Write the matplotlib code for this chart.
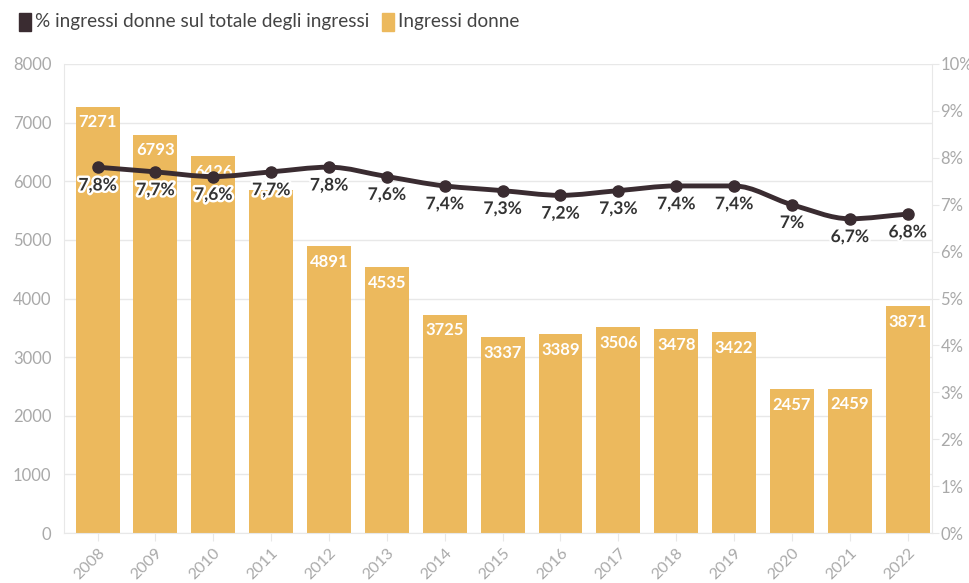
import matplotlib.pyplot as plt
import matplotlib.patheffects as pe
from matplotlib.patches import Rectangle, PathPatch
from matplotlib.path import Path

plt.rcParams['font.family'] = ['Lato', 'DejaVu Sans']

years = ['2008', '2009', '2010', '2011', '2012', '2013', '2014', '2015',
         '2016', '2017', '2018', '2019', '2020', '2021', '2022']
ingressi_donne = [7271, 6793, 6426, 5850, 4891, 4535, 3725, 3337,
                  3389, 3506, 3478, 3422, 2457, 2459, 3871]
quota_donne = [7.8, 7.7, 7.6, 7.7, 7.8, 7.6, 7.4, 7.3,
               7.2, 7.3, 7.4, 7.4, 7.0, 6.7, 6.8]

bar_color = '#ecb95d'
line_color = '#3a2c31'
grid_color = '#e8e8e8'
tick_color = '#a9a9a9'

fig = plt.figure(figsize=(9.69, 5.83), dpi=100)
ax = fig.add_axes([64 / 969, 1 - 533 / 583, (932 - 64) / 969, (533 - 64) / 583])
ax2 = ax.twinx()

x = list(range(len(years)))
ax.bar(x, ingressi_donne, width=0.76, color=bar_color, zorder=2)
ax.set_ylim(0, 8000)
ax.set_xlim(-0.58, len(years) - 0.58)
ax.set_yticks(range(0, 8001, 1000))
ax.grid(axis='y', color=grid_color, linewidth=1, zorder=0)
ax.set_axisbelow(True)
ax.set_xticks(x)
ax.set_xticklabels(years, rotation=45, ha='right', rotation_mode='anchor')

# bar labels, white bold near the top of each bar (2011 is hidden by the line label)
for xi, v in zip(x, ingressi_donne):
    if years[xi] == '2011':
        continue
    ax.text(xi, v - 130, str(v), ha='center', va='top', color='white',
            fontsize=12, fontweight='bold', zorder=3)

ax2.set_ylim(0, 10)
ax2.set_yticks(range(0, 11))
ax2.set_yticklabels([f'{i}%' for i in range(11)])


# smooth monotone curve through the points (Fritsch-Carlson tangents)
def monotone_path(xs, ys):
    n = len(xs)
    d = [(ys[i + 1] - ys[i]) / (xs[i + 1] - xs[i]) for i in range(n - 1)]
    m = [d[0]] + [0.0] * (n - 2) + [d[-1]]
    for i in range(1, n - 1):
        if d[i - 1] * d[i] > 0:
            m[i] = 2 / (1 / d[i - 1] + 1 / d[i])
    verts = [(xs[0], ys[0])]
    codes = [Path.MOVETO]
    for i in range(n - 1):
        h = xs[i + 1] - xs[i]
        verts += [(xs[i] + h / 3, ys[i] + m[i] * h / 3),
                  (xs[i + 1] - h / 3, ys[i + 1] - m[i + 1] * h / 3),
                  (xs[i + 1], ys[i + 1])]
        codes += [Path.CURVE4] * 3
    return Path(verts, codes)


ax2.add_patch(PathPatch(monotone_path(x, quota_donne), facecolor='none',
                        edgecolor=line_color, linewidth=3.5,
                        capstyle='round', joinstyle='round', zorder=4))
ax2.plot(x, quota_donne, linestyle='none', color=line_color, marker='o',
         markersize=8, zorder=4)

outline = [pe.withStroke(linewidth=3.5, foreground='white')]
for xi, v in zip(x, quota_donne):
    lab = f'{v:g}'.replace('.', ',') + '%'
    ax2.text(xi, v - 0.22, lab, ha='center', va='top', color='#333333',
             fontsize=12.5, fontweight='bold', path_effects=outline, zorder=5)

for a in (ax, ax2):
    for s in ('top', 'bottom', 'left', 'right'):
        a.spines[s].set_visible(False)
    a.tick_params(colors=tick_color, labelsize=12, length=0)

ax.spines['left'].set_visible(True)
ax.spines['left'].set_color(grid_color)
ax.spines['bottom'].set_visible(True)
ax.spines['bottom'].set_color(grid_color)
ax.tick_params(axis='x', length=6, color=grid_color, pad=3, labelsize=11.5)
ax.tick_params(axis='y', pad=9)
ax2.spines['right'].set_visible(True)
ax2.spines['right'].set_color(grid_color)
ax2.tick_params(axis='y', length=5, color=grid_color, pad=1)

# legend at the top left
fig.patches.append(Rectangle((19 / 969, 1 - 31 / 583), 12 / 969, 18 / 583,
                             transform=fig.transFigure, color=line_color))
fig.text(35 / 969, 1 - 22 / 583, '% ingressi donne sul totale degli ingressi',
         fontsize=13.7, color='#444444', va='center')
fig.patches.append(Rectangle((382 / 969, 1 - 31 / 583), 12 / 969, 18 / 583,
                             transform=fig.transFigure, color=bar_color))
fig.text(398 / 969, 1 - 22 / 583, 'Ingressi donne',
         fontsize=13.7, color='#444444', va='center')

fig.savefig('out.png', dpi=100)
